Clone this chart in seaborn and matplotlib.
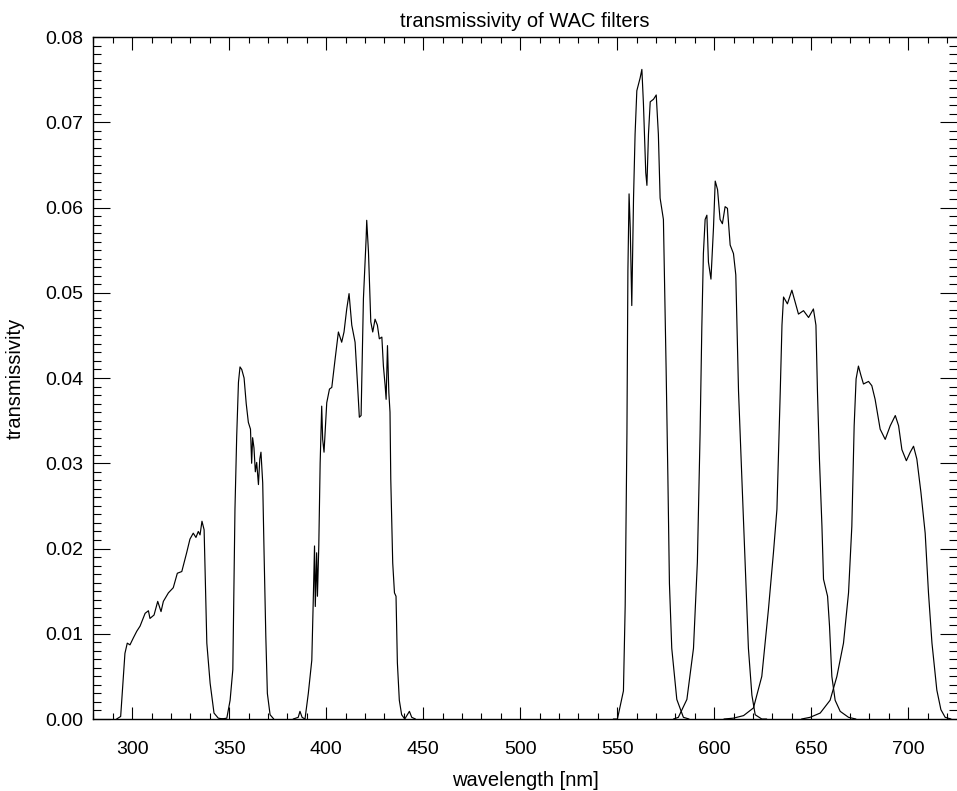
import numpy as np
import pandas as pd
import matplotlib
matplotlib.use("Agg")
import matplotlib.pyplot as plt
from matplotlib.ticker import MultipleLocator, FormatStrFormatter
import seaborn as sns

# ---------------- data ----------------
f1_wl = [292, 294.1, 296.3, 297.5, 298.9, 300.6, 302.4, 304.1, 306.7, 308.4, 309.2, 311.3,
         313.2, 314.9, 316.1, 318.7, 321.2, 323.3, 325.6, 328.1, 329.8, 331.5, 332.9, 334.1,
         335.0, 336.0, 337.1, 337.6, 338.5, 340.2, 342.2, 344.4, 347]
f1_tr = [0, 0.0003, 0.0077, 0.0089, 0.0087, 0.0095, 0.0103, 0.0109, 0.0124, 0.0127, 0.0118, 0.0122,
         0.0138, 0.0126, 0.0138, 0.0148, 0.0154, 0.0171, 0.0173, 0.0195, 0.0211, 0.0218, 0.0213, 0.0220,
         0.0216, 0.0232, 0.0222, 0.0175, 0.0089, 0.0042, 0.0007, 0.0001, 0]

f2_wl = [346, 348.8, 350.5, 351.9, 352.5, 353.0, 353.9, 354.8, 355.6, 356.5, 357.7, 358.8,
         359.9, 361.0, 361.6, 362.1, 362.8, 363.5, 364.2, 365.1, 365.8, 366.4, 367.3, 368.0,
         368.9, 369.7, 371.1, 373]
f2_tr = [0, 0.0001, 0.0022, 0.0058, 0.016, 0.0246, 0.0332, 0.0395, 0.0413, 0.0410, 0.0400, 0.0370,
         0.0348, 0.0340, 0.0300, 0.0330, 0.0318, 0.0290, 0.0301, 0.0275, 0.0305, 0.0313, 0.0277, 0.0195,
         0.0097, 0.003, 0.0005, 0]

f3_wl = [383, 385.6, 386.5, 387.6, 389.1, 390.8, 392.6, 393.4, 394.0, 394.4, 395.1, 395.5,
         396.2, 396.9, 397.7, 398.2, 398.9, 400.3, 401.7, 402.9, 404.6, 406.3, 408.0, 409.2,
         410.6, 411.8, 413.2, 414.9, 416.1, 417.1, 418.0, 419.2, 420.6, 420.9, 421.8, 423.0,
         424.0, 425.2, 426.4, 427.4, 428.7, 429.5, 430.4, 430.9, 431.6, 432.3, 432.9, 433.3,
         434.3, 435.2, 436.0, 436.7, 437.7, 438.9, 440.5, 442.9, 444.1, 446]
f3_tr = [0, 0.0002, 0.0009, 0.0002, 0, 0.003, 0.0069, 0.0144, 0.0203, 0.0132, 0.0195, 0.0144,
         0.0203, 0.030, 0.0367, 0.0328, 0.0313, 0.0371, 0.0387, 0.0389, 0.0422, 0.0454, 0.0442, 0.0454,
         0.0481, 0.0499, 0.0462, 0.0442, 0.0395, 0.0354, 0.0356, 0.0493, 0.0564, 0.0585, 0.0548, 0.0466,
         0.0454, 0.0469, 0.0462, 0.0446, 0.0448, 0.0414, 0.0391, 0.0375, 0.0438, 0.0383, 0.036, 0.0281,
         0.0183, 0.0148, 0.0144, 0.0066, 0.0022, 0.0005, 0.0, 0.0009, 0.0002, 0]

f4_wl = [548, 550.1, 553.2, 554.1, 555.0, 555.5, 556.1, 556.7, 557.5, 558.4, 559.2, 560.1,
         561.8, 562.7, 563.5, 564.7, 565.3, 566.1, 567.0, 568.7, 570.1, 571.2, 572.1, 573.8,
         575.2, 576.1, 576.9, 578.1, 580.7, 584.1, 587]
f4_tr = [0, 0, 0.0033, 0.0133, 0.0335, 0.0526, 0.0616, 0.0576, 0.0485, 0.0611, 0.0686, 0.0737,
         0.0752, 0.0762, 0.0722, 0.0641, 0.0626, 0.0686, 0.0724, 0.0727, 0.0732, 0.0686, 0.0611, 0.0586,
         0.041, 0.0284, 0.0159, 0.0083, 0.0023, 0.0002, 0]

f5_wl = [579, 581.5, 585.9, 589.3, 591.3, 592.7, 593.6, 594.4, 595.3, 596.2, 597.0, 598.3,
         599.6, 600.5, 601.7, 603.0, 604.2, 605.6, 606.8, 608.2, 609.9, 611.1, 612.5, 614.2,
         615.9, 617.6, 619.4, 621.1, 624.5, 627]
f5_tr = [0, 0.0002, 0.0023, 0.0083, 0.0184, 0.0335, 0.046, 0.0546, 0.0586, 0.0591, 0.0536, 0.0516,
         0.0576, 0.0631, 0.0621, 0.0586, 0.0581, 0.0601, 0.0599, 0.0556, 0.0546, 0.0521, 0.0385, 0.0284,
         0.0184, 0.0083, 0.0028, 0.0005, 0, 0]

f6_wl = [605, 609.9, 615.1, 620.2, 624.5, 627.9, 630.5, 632.3, 634.0, 634.9, 635.7, 637.7,
         640.0, 641.7, 643.4, 646.0, 648.6, 651.1, 652.4, 653.2, 654.2, 655.5, 656.3, 658.4,
         659.4, 660.6, 662.3, 664.9, 669.2, 673]
f6_tr = [0, 0.0001, 0.0004, 0.0013, 0.005, 0.0128, 0.0195, 0.0246, 0.0383, 0.0462, 0.0495, 0.0487,
         0.0503, 0.0489, 0.0475, 0.0479, 0.0471, 0.0481, 0.0462, 0.0383, 0.0305, 0.0226, 0.0164, 0.0144,
         0.0109, 0.005, 0.0022, 0.0009, 0.0002, 0]

f7_wl = [645, 649.4, 654.6, 659.7, 663.2, 666.6, 669.2, 670.9, 672.1, 673.1, 674.3, 675.6,
         676.9, 679.5, 681.2, 682.9, 685.5, 688.1, 690.7, 693.3, 695.0, 696.7, 699.0, 701.0,
         702.7, 704.4, 706.5, 708.7, 710.4, 712.2, 714.7, 716.8, 719.0, 722]
f7_tr = [0, 0.0002, 0.0007, 0.0022, 0.005, 0.0089, 0.0148, 0.0226, 0.0344, 0.0399, 0.0414, 0.0403,
         0.0393, 0.0396, 0.0391, 0.0375, 0.034, 0.0328, 0.0344, 0.0356, 0.0344, 0.0316, 0.0303, 0.0313,
         0.032, 0.0305, 0.0266, 0.0218, 0.0148, 0.0089, 0.0034, 0.0011, 0.0002, 0]

filters = ["F1", "F2", "F3", "F4", "F5", "F6", "F7"]
wls = [f1_wl, f2_wl, f3_wl, f4_wl, f5_wl, f6_wl, f7_wl]
trs = [f1_tr, f2_tr, f3_tr, f4_tr, f5_tr, f6_tr, f7_tr]

title = "transmissivity of WAC filters"
xlabel = "wavelength [nm]"
ylabel = "transmissivity"

df = pd.concat([pd.DataFrame({"filter": n, "wavelength": w, "transmissivity": t})
                for n, w, t in zip(filters, wls, trs)], ignore_index=True)

# ---------------- plotting ----------------
sns.set_style("ticks")
plt.rcParams["font.family"] = ["Liberation Sans", "DejaVu Sans"]
plt.rcParams["text.color"] = "black"
plt.rcParams["axes.labelcolor"] = "black"
plt.rcParams["xtick.color"] = "black"
plt.rcParams["ytick.color"] = "black"

fig = plt.figure(figsize=(9.57, 7.91), dpi=100)
ax = fig.add_axes([0.0975, 0.091, 0.9023, 0.8622])

sns.lineplot(data=df, x="wavelength", y="transmissivity", hue="filter", units="filter",
             estimator=None, sort=False, palette=["black"] * len(filters),
             legend=False, linewidth=0.85, ax=ax)

ax.set_xlim(280, 725)
ax.set_ylim(0, 0.08)
ax.xaxis.set_major_locator(MultipleLocator(50))
ax.xaxis.set_minor_locator(MultipleLocator(10))
ax.yaxis.set_major_locator(MultipleLocator(0.01))
ax.yaxis.set_minor_locator(MultipleLocator(0.001))
ax.yaxis.set_major_formatter(FormatStrFormatter("%.2f"))

for s in ["left", "top", "bottom"]:
    ax.spines[s].set_linewidth(1.0)
    ax.spines[s].set_color("black")
ax.spines["right"].set_visible(False)

ax.tick_params(axis="x", which="both", direction="in", top=True, bottom=True,
               labelsize=14, pad=16, width=0.8, colors="black")
ax.tick_params(axis="x", which="major", length=9)
ax.tick_params(axis="x", which="minor", length=4.5)
ax.tick_params(axis="y", which="both", direction="in", left=True, right=True,
               labelsize=14, pad=7, width=0.8, colors="black")
ax.tick_params(axis="y", which="major", length=12)
ax.tick_params(axis="y", which="minor", length=6)

ax.set_xlabel(xlabel, fontsize=14.5, labelpad=9, color="black")
ax.set_ylabel(ylabel, fontsize=14.5, labelpad=15, color="black")
ax.set_title(title, fontsize=14.5, pad=7, color="black")

fig.savefig("out.png", dpi=100, facecolor="white")
